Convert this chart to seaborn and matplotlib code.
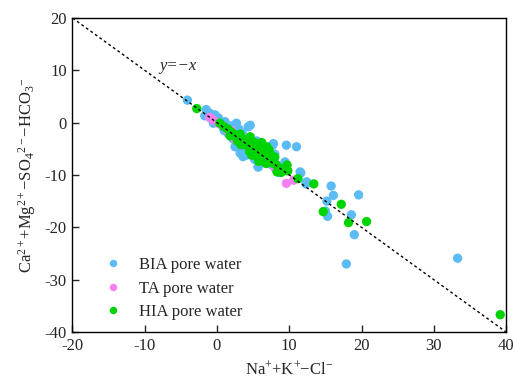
import matplotlib
matplotlib.use("Agg")
import matplotlib.pyplot as plt
import numpy as np
import pandas as pd
import seaborn as sns

# BIA pore water
bia_x = [-4.1, -1.5, -1.7, -0.3, -0.8, 0.2, -0.5, 0.5, 1.1, 1.5, 2.0, 2.7, 3.0, 4.3, 3.5,
         1.8, 2.2, 2.5, 3.0, 3.6, 3.2, 4.0, 4.5, 5.7, 5.0, 5.5, 6.0, 7.8, 7.0, 9.6,
         11.0, 9.4, 8.5, 11.6, 12.3, 15.8, 16.1, 19.6, 15.2, 15.0, 15.3, 18.6, 19.0, 17.9, 33.3,
         1.0, 0.0, 2.5, 4.0, 6.5, 5.2, 7.5, 8.0, 1.5, -1.0, 0.8, 4.6, 4.1, 5.5, 7.7,
         5.7, 11.5, 12.4, 2.3]
bia_y = [4.3, 2.5, 1.3, 1.5, 0.8, 0.9, -0.1, 0.3, 0.2, -0.5, -0.8, -0.1, -1.2, -0.8, -2.0,
         -2.4, -3.1, -4.6, -3.8, -6.5, -5.8, -5.2, -6.0, -8.5, -4.0, -3.5, -5.2, -4.0, -7.5, -4.3,
         -4.6, -7.5, -9.5, -9.6, -11.7, -12.1, -13.9, -13.8, -15.0, -16.9, -17.9, -17.6, -21.4, -27.0, -25.9,
         -1.5, 0.5, -1.8, -3.2, -6.5, -7.0, -8.0, -6.0, -2.0, 1.8, -0.8, -0.5, -6.2, -6.5, -4.3,
         -8.4, -9.4, -11.3, -0.5]

# TA pore water
ta_x = [-1.0, -0.5, 0.3, 1.0, 1.5, 2.0, 3.0, 4.5, 6.0, 7.0, 8.0, 9.6, 10.6, 2.5, 5.5]
ta_y = [1.0, 0.5, -0.2, -0.8, -1.5, -1.5, -2.5, -5.0, -5.5, -7.3, -8.6, -11.6, -11.0, -3.2, -6.2]

# HIA pore water
hia_x = [-2.8, 0.4, 1.0, 1.5, 2.0, 2.5, 3.0, 3.2, 3.5, 4.0, 4.2, 4.6, 5.0, 5.2, 5.5,
         5.8, 6.0, 6.3, 6.5, 6.9, 7.0, 7.3, 7.5, 7.8, 8.2, 8.7, 2.8, 3.8, 4.5, 5.5,
         6.8, 9.7, 11.2, 13.4, 17.2, 14.7, 18.2, 20.7, 39.2, 9.8, 8.9, 1.8, 3.3, 4.8, 5.8,
         6.2, 7.2, 8.0, 8.3]
hia_y = [2.7, -0.1, -0.8, -1.2, -1.8, -2.3, -2.8, -2.2, -3.5, -3.2, -4.0, -2.7, -4.5, -3.8, -5.2,
         -4.6, -6.0, -5.5, -6.6, -4.6, -7.0, -7.2, -6.2, -7.8, -8.0, -8.7, -3.5, -4.2, -5.5, -6.5,
         -7.8, -8.1, -10.7, -11.7, -15.6, -17.0, -19.1, -18.9, -36.7, -9.2, -9.5, -2.5, -4.2, -6.2, -7.4,
         -3.8, -5.2, -6.6, -9.4]

groups = ["BIA pore water", "TA pore water", "HIA pore water"]
colors = ["#5bbcf5", "#f77ff0", "#00d400"]

df = pd.concat([
    pd.DataFrame({"x": bia_x, "y": bia_y, "group": groups[0]}),
    pd.DataFrame({"x": ta_x, "y": ta_y, "group": groups[1]}),
    pd.DataFrame({"x": hia_x, "y": hia_y, "group": groups[2]}),
], ignore_index=True)

sns.set_style("white")
plt.rcParams["font.family"] = ["Liberation Serif", "DejaVu Serif"]
plt.rcParams["mathtext.fontset"] = "custom"
plt.rcParams["mathtext.rm"] = "Liberation Serif"
plt.rcParams["mathtext.it"] = "Liberation Serif:italic"
plt.rcParams["mathtext.default"] = "regular"

fig = plt.figure(figsize=(5.13, 3.83), dpi=100)
ax = fig.add_axes([0.1413, 0.1332, 0.8451, 0.8198])

sns.scatterplot(data=df, x="x", y="y", hue="group", hue_order=groups,
                palette=colors, s=45, linewidth=0, alpha=1, ax=ax, legend=True)

line_x = np.array([-20, 40])
ax.plot(line_x, -line_x, color="black", linestyle=(0, (2, 2)), linewidth=1, zorder=5)
ax.text(-8.0, 10.0, "y=\u2212x", fontsize=12, style="italic")

ax.set_xlim(-20, 40)
ax.set_ylim(-40, 20)
ax.set_xticks([-20, -10, 0, 10, 20, 30, 40])
ax.set_yticks([-40, -30, -20, -10, 0, 10, 20])
ax.set_xticklabels(["-20", "-10", "0", "10", "20", "30", "40"])
ax.set_yticklabels(["-40", "-30", "-20", "-10", "0", "10", "20"])
ax.tick_params(axis="both", direction="in", length=5, width=1, labelsize=12,
               bottom=True, left=True, top=False, right=False, pad=4)
for sp in ax.spines.values():
    sp.set_color("black")
    sp.set_linewidth(1)

ax.set_xlabel("Na$^{+}$+K$^{+}$\u2212Cl$^{\u2212}$", fontsize=12, labelpad=5)
ax.set_ylabel("Ca$^{2+}$+Mg$^{2+}$\u2212SO$_4$$^{2\u2212}$\u2212HCO$_3$$^{\u2212}$",
              fontsize=12)
ax.yaxis.set_label_coords(-0.08, 0.5)

handles, labels = ax.get_legend_handles_labels()
ax.legend(handles, labels, loc="lower left", bbox_to_anchor=(0.02, -0.01), frameon=False,
          fontsize=12, handletextpad=0.6, labelspacing=0.45, markerscale=0.8)

fig.savefig("out.png", dpi=100)
